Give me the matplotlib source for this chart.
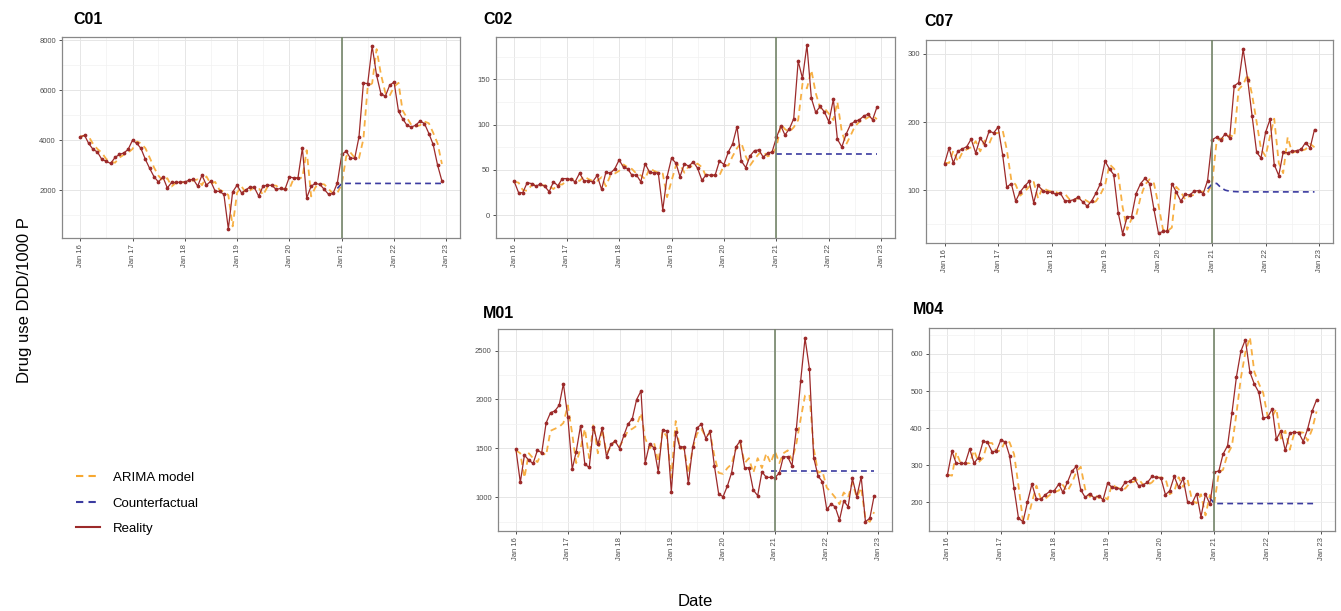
import numpy as np
import pandas as pd
import matplotlib
matplotlib.use("Agg")
import matplotlib.pyplot as plt
import matplotlib.dates as mdates
from matplotlib.lines import Line2D

plt.rcParams["font.family"] = ["Liberation Sans", "DejaVu Sans"]

dates = pd.date_range("2016-01-01", periods=84, freq="MS")

# ---------- DATA ----------
c01_real = [4130, 4200, 3870, 3630, 3530, 3230, 3160, 3070, 3310, 3430, 3490, 3630,
            4000, 3870, 3670, 3230, 2870, 2530, 2330, 2530, 2090, 2310, 2310, 2320,
            2330, 2400, 2440, 2160, 2600, 2200, 2360, 1960, 1950, 1830, 450, 1930,
            2200, 1890, 2000, 2130, 2110, 1760, 2160, 2200, 2190, 2030, 2070, 2030,
            2530, 2490, 2490, 3690, 1690, 2160, 2270, 2230, 2030, 1830, 1870, 2290,
            3430, 3560, 3290, 3270, 4130, 6290, 6270, 7770, 6600, 5870, 5760, 6200,
            6330, 5160, 4870, 4600, 4530, 4600, 4770, 4670, 4270, 3830, 3000, 2370]
c01_arima = [4150, 4180, 4150, 3850, 3650, 3500, 3250, 3150, 3100, 3300, 3420, 3500,
             3650, 3950, 3880, 3680, 3300, 2900, 2580, 2380, 2480, 2150, 2300, 2310,
             2320, 2340, 2390, 2430, 2200, 2550, 2250, 2330, 2000, 1950, 1800, 550,
             1900, 2150, 1920, 1990, 2110, 2100, 1800, 2130, 2190, 2180, 2040, 2060,
             2040, 2480, 2490, 2500, 3600, 1750, 2120, 2250, 2230, 2050, 1860, 1880,
             2250, 3350, 3520, 3300, 3280, 4050, 6150, 6280, 7650, 6650, 5900, 5780,
             6150, 6300, 5200, 4900, 4620, 4550, 4600, 4750, 4680, 4300, 3870, 3050]
c01_cf = [2070, 2270, 2270, 2270, 2270, 2270, 2270, 2270, 2270, 2270, 2270, 2270, 2270,
          2270, 2270, 2270, 2270, 2270, 2270, 2270, 2270, 2270, 2270, 2270, 2270]

c02_real = [37.5, 25, 25, 36, 35, 32, 34.5, 32, 26, 37, 32.5, 40.5,
            40.5, 39.5, 37, 46.5, 38, 38, 37, 44, 28.5, 47.5, 46.5, 51,
            61, 53, 51.5, 44, 44.7, 37, 57, 47.5, 46.7, 46.5, 6, 42.5,
            63, 57.5, 42.5, 57, 54, 59, 52, 38.5, 45, 44, 44.5, 60,
            56, 70, 78.6, 97.7, 60, 52.6, 65.5, 71.4, 72, 64, 68.8, 69.7,
            86, 98.4, 88.5, 95.4, 106.6, 170, 151, 187.5, 129, 113.5, 120, 114,
            103, 128, 84, 75.3, 89.5, 100.3, 103.6, 105.3, 109.5, 111.5, 105.3, 119]
c02_arima = [37, 36, 28, 27, 33, 34, 33, 33, 32, 29, 34, 34,
             38, 40, 39, 38, 43, 40, 38, 38, 42, 32, 44, 46,
             49, 56, 53, 51, 46, 44, 40, 52, 49, 47, 46, 20,
             38, 55, 56, 47, 54, 54, 57, 53, 42, 44, 44, 44,
             55, 55, 65, 74, 80, 65, 55, 62, 68, 70, 65, 67,
             75, 100, 95, 92, 97, 105, 145, 140, 160, 135, 118, 118,
             112, 105, 125, 92, 78, 88, 98, 103, 105, 108, 110, 106]
c02_cf = [67.5, 67.5, 67.5, 67.5, 67.5, 67.5, 67.5, 67.5, 67.5, 67.5, 67.5, 67.5,
          67.5, 67.5, 67.5, 67.5, 67.5, 67.5, 67.5, 67.5, 67.5, 67.5, 67.5, 67.5]

c07_real = [139, 162, 140, 157, 160.5, 164, 175, 154.6, 176.6, 167, 187, 184,
            192.7, 152, 104.4, 109.8, 84, 97.6, 106, 113, 81.5, 107, 99.5, 97,
            97, 93.7, 96, 84.4, 84.4, 86, 89.8, 83, 76.6, 84, 96, 109.8,
            142.4, 131, 123, 66.8, 36, 61, 61, 95, 109.8, 117.5, 109.8, 71.7,
            36.6, 39.5, 40, 109.8, 97.6, 84, 93.7, 93, 98.5, 99.5, 95, 114,
            174, 178, 174, 183, 176.6, 253, 258, 307, 262, 209, 155.6, 147.3,
            185, 204.4, 137.6, 121.5, 155.6, 155, 157, 158, 160, 170, 162, 189]
c07_arima = [140, 140, 158, 142, 155, 160, 163, 172, 157, 173, 168, 184,
             184, 188, 160, 115, 108, 92, 98, 105, 112, 88, 104, 100,
             98, 97, 95, 95, 87, 86, 88, 88, 84, 80, 84, 94,
             107, 138, 132, 124, 75, 42, 58, 62, 90, 108, 116, 110,
             78, 42, 40, 45, 105, 98, 86, 92, 93, 97, 98, 96,
             110, 172, 176, 175, 181, 178, 248, 255, 270, 240, 200, 160,
             150, 180, 205, 140, 125, 178, 155, 157, 158, 160, 168, 163]
c07_cf = [102, 109, 110, 104, 100, 98.5, 98, 97.7, 97.5, 97.5, 97.5, 97.5, 97.5,
          97.5, 97.5, 97.5, 97.5, 97.5, 97.5, 97.5, 97.5, 97.5, 97.5, 97.5, 97.5]

m01_real = [1492, 1153, 1431, 1380, 1346, 1482, 1455, 1760, 1865, 1882, 1940, 2160,
            1821, 1288, 1465, 1733, 1339, 1305, 1720, 1540, 1709, 1414, 1543, 1574,
            1499, 1635, 1747, 1804, 1998, 2086, 1353, 1550, 1505, 1261, 1692, 1675,
            1058, 1669, 1516, 1516, 1143, 1516, 1709, 1747, 1601, 1675, 1319, 1034,
            1007, 1119, 1251, 1516, 1577, 1302, 1302, 1075, 1017, 1261, 1204, 1204,
            1200, 1251, 1414, 1414, 1322, 1703, 2188, 2626, 2313, 1407, 1217, 1160,
            878, 929, 905, 769, 963, 905, 1193, 1007, 1210, 752, 786, 1014]
m01_arima = [1480, 1450, 1200, 1450, 1400, 1360, 1460, 1430, 1680, 1700, 1720, 1760,
             1940, 1650, 1350, 1500, 1700, 1400, 1750, 1450, 1700, 1450, 1520, 1580,
             1520, 1600, 1680, 1700, 1730, 1860, 1600, 1500, 1560, 1360, 1680, 1620,
             1200, 1780, 1500, 1500, 1250, 1500, 1650, 1700, 1620, 1660, 1420, 1250,
             1240, 1300, 1340, 1500, 1560, 1350, 1400, 1250, 1400, 1300, 1450, 1350,
             1470, 1350, 1450, 1480, 1380, 1550, 1800, 2040, 2050, 1500, 1250, 1270,
             1100, 1050, 1000, 930, 1050, 1000, 1150, 1000, 1100, 780, 750, 850]
m01_cf = [1268, 1268, 1268, 1268, 1268, 1268, 1268, 1268, 1268, 1268, 1268, 1268, 1268,
          1268, 1268, 1268, 1268, 1268, 1268, 1268, 1268, 1268, 1268, 1268, 1268]

m04_real = [274.6, 337.5, 305, 305, 305, 344, 306, 321, 364.5, 362, 336.6, 338.4,
            369, 362, 326, 237.8, 157.8, 147.9, 200, 249.4, 209, 209, 220.7, 229.7,
            231.5, 249.4, 227, 254, 283.6, 297, 234, 213.5, 224, 211.7, 218, 207,
            252, 240.4, 237.8, 236, 254, 256.6, 265.6, 245, 247.6, 254, 270, 267.4,
            265.6, 220.7, 231.5, 270, 240.4, 264.7, 201.8, 197.3, 224, 161.3, 222.5, 195.5,
            281, 285.4, 330, 352.8, 441, 539, 607, 638.7, 550.6, 519, 496.6, 427,
            430, 452, 370, 393, 340, 387, 389, 388, 364, 398, 446, 476]
m04_arima = [275, 272, 335, 305, 305, 306, 340, 308, 320, 360, 360, 338,
             340, 367, 362, 330, 245, 150, 150, 200, 245, 210, 210, 220,
             228, 232, 247, 230, 252, 282, 296, 235, 215, 222, 212, 217,
             208, 250, 240, 238, 237, 252, 256, 264, 247, 247, 254, 268,
             267, 265, 222, 230, 268, 242, 262, 205, 198, 222, 165, 220,
             200, 282, 288, 330, 352, 440, 535, 605, 645, 552, 520, 495,
             430, 432, 452, 372, 393, 342, 386, 390, 388, 366, 397, 445]
m04_cf = [212, 197, 197, 197, 197, 197, 197, 197, 197, 197, 197, 197, 197,
          197, 197, 197, 197, 197, 197, 197, 197, 197, 197, 197, 197]

year_ticks = ["Jan 16", "Jan 17", "Jan 18", "Jan 19", "Jan 20", "Jan 21", "Jan 22", "Jan 23"]

REAL_COL = "#9C2A2A"
ARIMA_COL = "#F7A830"
CF_COL = "#3B3BA0"
VLINE_COL = "#74856A"

W, H = 1341, 611
fig = plt.figure(figsize=(W / 100, H / 100), dpi=100)


def px_axes(left, top, right, bottom):
    return fig.add_axes([left / W, 1 - bottom / H, (right - left) / W, (bottom - top) / H])


def draw_panel(ax, real, arima, cf, yticks, title, title_xy):
    ax.plot(dates, arima, color=ARIMA_COL, ls=(0, (3.5, 2.5)), lw=1.3, alpha=0.9, zorder=3)
    ax.plot(dates[-len(cf):], cf, color=CF_COL, ls=(0, (3.5, 2.5)), lw=1.2, zorder=3)
    ax.plot(dates, real, color=REAL_COL, lw=0.9, marker="o", ms=1.7, zorder=4)
    ax.axvline(pd.Timestamp("2021-01-01"), color=VLINE_COL, lw=1.2, zorder=5)

    x0, x1 = mdates.date2num(dates[0]), mdates.date2num(dates[-1])
    pad = (x1 - x0) * 0.05
    ax.set_xlim(x0 - pad, x1 + pad)
    allv = np.concatenate([real, arima, cf])
    lo, hi = allv.min(), allv.max()
    ypad = (hi - lo) * 0.05
    ax.set_ylim(lo - ypad, hi + ypad)

    ax.set_xticks(pd.date_range("2016-01-01", "2023-01-01", freq="YS"))
    ax.set_xticklabels(year_ticks, rotation=90, fontsize=5.5, color="#4D4D4D")
    ax.set_xticks(pd.date_range("2016-07-01", "2022-07-01", freq="12MS"), minor=True)
    ax.set_yticks(yticks)
    ax.set_yticklabels([str(v) for v in yticks], fontsize=5.5, color="#4D4D4D")
    ymin_t = yticks[0] - (yticks[1] - yticks[0]) / 2
    ax.set_yticks(np.arange(ymin_t, hi + ypad, (yticks[1] - yticks[0])), minor=True)

    ax.grid(True, which="major", color="#E6E6E6", lw=0.7)
    ax.grid(True, which="minor", color="#F2F2F2", lw=0.5)
    ax.set_axisbelow(True)
    ax.tick_params(which="major", length=2.5, width=0.6, color="#333333", pad=2)
    ax.tick_params(which="minor", length=0)
    for s in ax.spines.values():
        s.set_color("#888888")
        s.set_linewidth(0.9)

    fig.text(title_xy[0] / W, 1 - title_xy[1] / H, title, fontsize=11.5,
             fontweight="bold", ha="left", va="center")


ax1 = px_axes(62, 37, 460, 238)
draw_panel(ax1, c01_real, c01_arima, c01_cf, [2000, 4000, 6000, 8000], "C01", (73, 20))

ax2 = px_axes(496, 37, 895, 238)
draw_panel(ax2, c02_real, c02_arima, c02_cf, [0, 50, 100, 150], "C02", (483, 19))

ax3 = px_axes(926, 40, 1333, 243)
draw_panel(ax3, c07_real, c07_arima, c07_cf, [100, 200, 300], "C07", (924, 22))

ax4 = px_axes(498, 329, 892, 531)
draw_panel(ax4, m01_real, m01_arima, m01_cf, [1000, 1500, 2000, 2500], "M01", (483, 313))

ax5 = px_axes(929, 328, 1335, 531)
draw_panel(ax5, m04_real, m04_arima, m04_cf, [200, 300, 400, 500, 600], "M04", (913, 309))

fig.text(25 / W, 1 - 300 / H, "Drug use DDD/1000 P", rotation=90, fontsize=12,
         ha="center", va="center")
fig.text(695 / W, 1 - 601 / H, "Date", fontsize=12, ha="center", va="center")

handles = [
    Line2D([], [], color=ARIMA_COL, ls=(0, (3.5, 2.5)), lw=1.5),
    Line2D([], [], color=CF_COL, ls=(0, (3.5, 2.5)), lw=1.5),
    Line2D([], [], color=REAL_COL, lw=1.5),
]
fig.legend(handles, ["ARIMA model", "Counterfactual", "Reality"],
           loc="upper left", bbox_to_anchor=(64 / W, 1 - 460 / H), frameon=False,
           fontsize=9.5, handlelength=1.8, labelspacing=1.0, handletextpad=1.0)

fig.savefig("out.png", dpi=100)
